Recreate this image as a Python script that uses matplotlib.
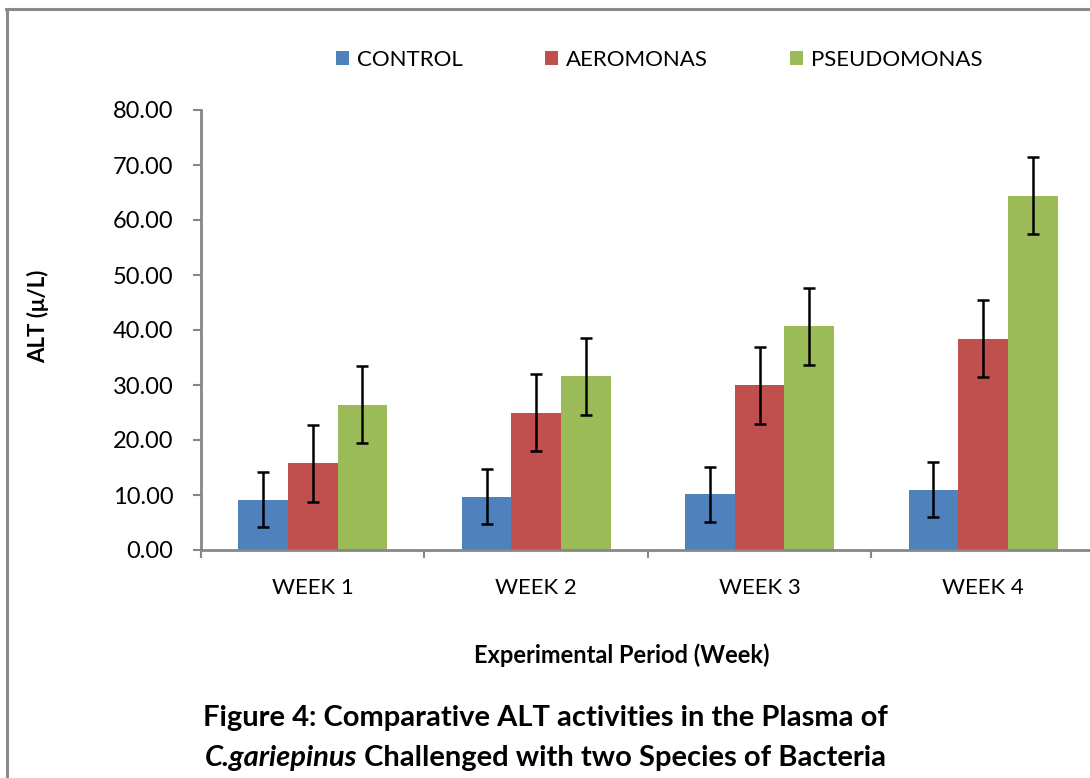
import numpy as np
import matplotlib
matplotlib.use("Agg")
import matplotlib.pyplot as plt
from matplotlib.lines import Line2D

weeks = ["WEEK 1", "WEEK 2", "WEEK 3", "WEEK 4"]
series = ["CONTROL", "AEROMONAS", "PSEUDOMONAS"]
control = [9.1, 9.7, 10.1, 11.0]
aeromonas = [15.8, 25.0, 30.0, 38.4]
pseudomonas = [26.4, 31.6, 40.7, 64.4]
control_err = [5.0, 5.0, 5.0, 5.0]
aeromonas_err = [7.0, 7.0, 7.0, 7.0]
pseudomonas_err = [7.0, 7.0, 7.0, 7.0]
colors = ["#4F81BD", "#C0504D", "#9BBB59"]

plt.rcParams["font.family"] = ["Lato", "DejaVu Sans"]

W, H = 1090, 778
fig = plt.figure(figsize=(W / 100, H / 100), dpi=100)
ax = fig.add_axes([201 / W, 1 - 550 / H, 893.8 / W, 440 / H])

x = np.arange(len(weeks))
bw = 1 / 4.5
values = [control, aeromonas, pseudomonas]
errs = [control_err, aeromonas_err, pseudomonas_err]
for i, (vals, err, name) in enumerate(zip(values, errs, series)):
    ax.bar(x + (i - 1) * bw, vals, width=bw, color=colors[i], label=name,
           yerr=err, capsize=4,
           error_kw=dict(ecolor="black", elinewidth=1.8, capthick=1.8))

ax.set_xlim(-0.5, len(weeks) - 0.5)
ax.set_ylim(0, 80)
ax.set_yticks(np.arange(0, 81, 10))
ax.set_yticklabels([f"{v:.2f}" for v in np.arange(0, 81, 10)], fontsize=17)
ax.set_xticks(x)
ax.set_xticklabels(weeks, fontsize=16)
ax.set_xticks(np.arange(-0.5, len(weeks)), minor=True)
ax.tick_params(axis="x", which="major", length=0, pad=20)
ax.tick_params(axis="x", which="minor", length=6, width=1.5, color="#868686")
ax.tick_params(axis="y", length=6, width=1.5, color="#868686", pad=14)

for s in ["top", "right"]:
    ax.spines[s].set_visible(False)
for s in ["left", "bottom"]:
    ax.spines[s].set_color("#868686")
    ax.spines[s].set_linewidth(2)

fig.text(38 / W, 1 - 316 / H, "ALT (\u03bc/L)", rotation=90, ha="center", va="center",
         fontsize=16, fontweight="bold")

fig.text(622 / W, 1 - 655 / H, "Experimental Period (Week)", ha="center", va="center",
         fontsize=17, fontweight="bold")

fig.legend(loc="center", bbox_to_anchor=(659 / W, 1 - 60 / H), ncol=3,
           frameon=False, fontsize=16, handlelength=0.6, handleheight=0.6,
           handletextpad=0.35, columnspacing=3.7)

cap_size = 21
fig.text(545 / W, 1 - 718 / H, "Figure 4: Comparative ALT activities in the Plasma of",
         ha="center", va="center", fontsize=cap_size, fontweight="bold")

# second caption line: italic species name followed by regular bold text
renderer = fig.canvas.get_renderer()
t1 = fig.text(0, 1 - 758 / H, "C.gariepinus", ha="left", va="center",
              fontsize=cap_size, fontweight="bold", fontstyle="italic")
t2 = fig.text(0, 1 - 758 / H, " Challenged with two Species of Bacteria", ha="left",
              va="center", fontsize=cap_size, fontweight="bold")
w1 = t1.get_window_extent(renderer).width
w2 = t2.get_window_extent(renderer).width
start = 545 - (w1 + w2) / 2
t1.set_x(start / W)
t2.set_x((start + w1) / W)

# outer frame (left and top edges visible)
fig.add_artist(Line2D([7 / W, 7 / W], [0, 1 - 9 / H], transform=fig.transFigure,
                      color="#8a8a8a", linewidth=2.2))
fig.add_artist(Line2D([6 / W, 1], [1 - 9 / H, 1 - 9 / H], transform=fig.transFigure,
                      color="#8a8a8a", linewidth=2.2))

fig.savefig("out.png", dpi=100)
plt.close(fig)
